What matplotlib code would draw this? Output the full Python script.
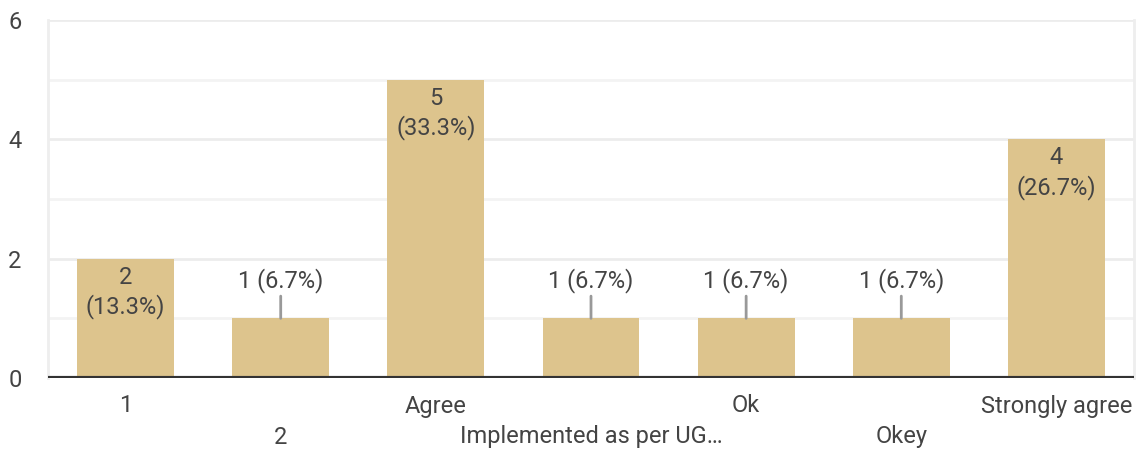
import matplotlib.pyplot as plt
from matplotlib.transforms import blended_transform_factory

plt.rcParams['font.family'] = ['Roboto', 'DejaVu Sans']

# data
categories = ["1", "2", "Agree", "Implemented as per UG\u2026", "Ok", "Okey", "Strongly agree"]
counts = [2, 1, 5, 1, 1, 1, 4]
y_ticks = [0, 2, 4, 6]

bar_color = '#DDC48D'
text_color = '#444444'
fs = 17
total = sum(counts)

fig = plt.figure(figsize=(11.42, 4.51), dpi=100)
ax = fig.add_axes([48 / 1142, 1 - 378 / 451, (1134 - 48) / 1142, (378 - 20) / 451])

x = list(range(len(categories)))
ax.bar(x, counts, width=0.625, color=bar_color, zorder=2)

ax.set_xlim(-0.5, len(categories) - 0.5)
ax.set_ylim(0, 6)

# gridlines
for g in range(1, 7):
    ax.axhline(g, color='#ececec' if g % 2 == 0 else '#f3f3f3', lw=2, zorder=0)
ax.axhline(0, color='#333333', lw=3, zorder=3)

for side in ['top', 'bottom']:
    ax.spines[side].set_visible(False)
for side in ['left', 'right']:
    ax.spines[side].set_color('#eeeeee')
    ax.spines[side].set_linewidth(2)

ax.set_yticks(y_ticks)
ax.set_yticklabels([str(t) for t in y_ticks], fontsize=fs, color=text_color)
ax.tick_params(axis='y', length=0, pad=19)
ax.set_xticks([])

# staggered category labels
trans = blended_transform_factory(ax.transData, ax.transAxes)
for i, cat in enumerate(categories):
    off = -28 if i % 2 == 0 else -59
    ax.annotate(cat, xy=(i, 0), xycoords=trans, xytext=(0, off * 0.72),
                textcoords='offset points', ha='center', va='center',
                fontsize=fs, color=text_color)

# value labels
for i, c in enumerate(counts):
    pct = c / total * 100
    if c >= 2:
        ax.annotate(f"{c}\n({pct:.1f}%)", xy=(i, c), xytext=(0, -5),
                    textcoords='offset points', ha='center', va='top',
                    fontsize=fs, color=text_color, linespacing=1.3, zorder=4)
    else:
        ax.annotate(f"{c} ({pct:.1f}%)", xy=(i, c), xytext=(0, 18),
                    textcoords='offset points', ha='center', va='bottom',
                    fontsize=fs, color=text_color, zorder=4,
                    arrowprops=dict(arrowstyle='-', color='#999999', lw=2,
                                    shrinkA=0, shrinkB=0))

fig.savefig('out.png', dpi=100)
